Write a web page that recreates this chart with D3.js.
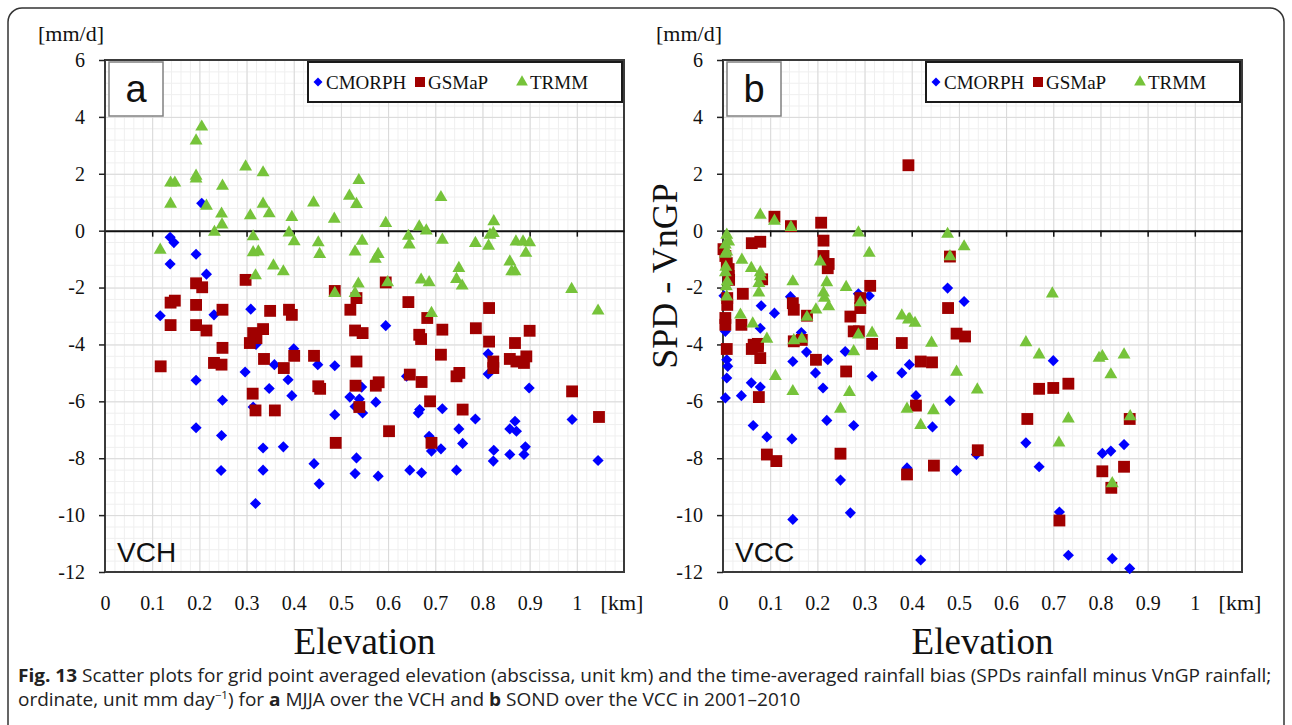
<!DOCTYPE html>
<html>
<head>
<meta charset="utf-8">
<script src="https://cdn.jsdelivr.net/npm/d3@7/dist/d3.min.js"></script>
<style>
  body { margin: 0; background: #fff; }
  svg { display: block; }
</style>
</head>
<body>
<svg id="fig" width="1292" height="725"></svg>
<script>
// ---- data: [elevation km, bias mm/d] ----
const cmorphA = [[0.205,0.96],[0.138,-0.23],[0.146,-0.42],[0.193,-0.83],[0.138,-1.17],[0.215,-1.53],[0.117,-2.99],[0.231,-2.96],[0.309,-2.76],[0.595,-3.34],[0.4,-4.15],[0.32,-4.0],[0.359,-4.71],[0.451,-4.71],[0.487,-4.75],[0.297,-4.97],[0.193,-5.26],[0.388,-5.24],[0.348,-5.55],[0.396,-5.8],[0.249,-5.96],[0.314,-6.2],[0.519,-5.85],[0.539,-5.92],[0.544,-5.5],[0.53,-6.18],[0.546,-6.41],[0.574,-6.03],[0.487,-6.47],[0.193,-6.93],[0.247,-7.2],[0.335,-7.64],[0.378,-7.6],[0.443,-8.19],[0.533,-7.99],[0.246,-8.43],[0.335,-8.42],[0.454,-8.9],[0.53,-8.54],[0.579,-8.63],[0.319,-9.59],[0.812,-4.33],[0.812,-5.04],[0.639,-5.12],[0.899,-5.53],[0.667,-6.29],[0.664,-6.41],[0.715,-6.26],[0.785,-6.62],[0.75,-6.97],[0.758,-7.48],[0.869,-6.7],[0.858,-6.97],[0.872,-7.05],[0.687,-7.23],[0.692,-7.75],[0.712,-7.67],[0.824,-7.72],[0.823,-8.1],[0.858,-7.87],[0.891,-7.6],[0.888,-7.87],[0.646,-8.42],[0.671,-8.51],[0.745,-8.42],[0.99,-6.64],[1.045,-8.08]];
const gsmapA = [[0.298,-1.73],[0.193,-1.85],[0.206,-1.99],[0.139,-2.53],[0.148,-2.46],[0.193,-2.61],[0.249,-2.78],[0.139,-3.32],[0.193,-3.32],[0.215,-3.51],[0.35,-2.82],[0.39,-2.78],[0.396,-2.96],[0.487,-2.12],[0.52,-2.78],[0.595,-1.82],[0.533,-2.37],[0.53,-3.51],[0.546,-3.6],[0.314,-3.6],[0.335,-3.46],[0.321,-3.78],[0.307,-3.95],[0.249,-4.12],[0.118,-4.77],[0.231,-4.65],[0.247,-4.71],[0.337,-4.51],[0.379,-4.83],[0.401,-4.4],[0.443,-4.4],[0.313,-5.73],[0.319,-6.32],[0.36,-6.32],[0.452,-5.47],[0.456,-5.56],[0.489,-7.46],[0.533,-4.6],[0.531,-5.45],[0.539,-6.2],[0.574,-5.45],[0.58,-5.33],[0.602,-7.05],[0.643,-2.51],[0.683,-3.07],[0.666,-3.66],[0.67,-3.81],[0.715,-3.48],[0.786,-3.43],[0.814,-2.72],[0.814,-3.9],[0.869,-3.95],[0.9,-3.52],[0.712,-4.36],[0.823,-4.6],[0.823,-4.83],[0.858,-4.51],[0.872,-4.6],[0.888,-4.65],[0.893,-4.42],[0.646,-5.06],[0.671,-5.32],[0.745,-5.12],[0.751,-5.0],[0.689,-6.0],[0.758,-6.29],[0.692,-7.46],[0.99,-5.65],[1.047,-6.55]];
const trmmA = [[0.205,3.65],[0.193,3.16],[0.193,1.92],[0.193,1.82],[0.139,1.68],[0.148,1.68],[0.139,0.94],[0.215,0.87],[0.249,1.57],[0.247,0.59],[0.248,0.21],[0.232,-0.05],[0.298,2.25],[0.335,2.04],[0.308,0.53],[0.335,0.94],[0.348,0.6],[0.396,0.47],[0.39,-0.07],[0.401,-0.38],[0.314,-0.21],[0.314,-0.77],[0.325,-0.74],[0.357,-1.23],[0.378,-1.44],[0.319,-1.58],[0.117,-0.68],[0.442,0.98],[0.486,0.41],[0.452,-0.42],[0.455,-0.83],[0.518,1.22],[0.538,1.77],[0.533,0.93],[0.545,-0.36],[0.53,-0.74],[0.579,-0.83],[0.573,-1.0],[0.487,-2.2],[0.537,-1.87],[0.53,-2.2],[0.595,0.26],[0.599,-1.82],[0.712,1.17],[0.666,0.14],[0.681,0.0],[0.643,-0.19],[0.645,-0.5],[0.715,-0.33],[0.824,0.32],[0.816,-0.15],[0.823,-0.09],[0.785,-0.44],[0.813,-0.54],[0.871,-0.39],[0.886,-0.39],[0.9,-0.42],[0.892,-0.79],[0.67,-1.73],[0.687,-1.82],[0.75,-1.32],[0.745,-1.71],[0.757,-1.94],[0.858,-1.09],[0.862,-1.44],[0.869,-1.44],[0.989,-2.06],[1.045,-2.82],[0.692,-2.9]];

const cmorphB = [[0.002,-2.29],[0.143,-2.32],[0.081,-2.64],[0.109,-2.9],[0.287,-2.22],[0.31,-2.29],[0.079,-3.43],[0.005,-3.54],[0.166,-3.58],[0.008,-4.54],[0.01,-4.77],[0.008,-5.18],[0.005,-5.88],[0.177,-4.27],[0.148,-4.6],[0.222,-4.54],[0.259,-4.25],[0.196,-5.0],[0.06,-5.35],[0.079,-5.5],[0.039,-5.8],[0.212,-5.53],[0.316,-5.12],[0.379,-5.0],[0.395,-4.71],[0.064,-6.85],[0.093,-7.25],[0.146,-7.32],[0.22,-6.67],[0.277,-6.85],[0.249,-8.77],[0.27,-9.92],[0.148,-10.15],[0.39,-8.34],[0.409,-5.8],[0.481,-5.98],[0.444,-6.9],[0.476,-2.02],[0.511,-2.49],[0.7,-4.57],[0.642,-7.46],[0.537,-7.87],[0.495,-8.43],[0.67,-8.3],[0.713,-9.89],[0.419,-11.58],[0.732,-11.41],[0.804,-7.83],[0.822,-7.75],[0.85,-7.52],[0.825,-11.53],[0.862,-11.88]];
const gsmapB = [[0.393,2.3],[0.109,0.49],[0.144,0.16],[0.208,0.28],[0.061,-0.44],[0.079,-0.39],[0.213,-0.35],[0.001,-0.65],[0.005,-0.89],[0.213,-0.89],[0.224,-1.17],[0.222,-1.32],[0.008,-1.14],[0.012,-1.35],[0.012,-1.59],[0.013,-1.73],[0.083,-1.71],[0.042,-2.22],[0.009,-2.37],[0.009,-2.61],[0.312,-1.94],[0.291,-2.37],[0.291,-2.72],[0.148,-2.55],[0.15,-2.78],[0.178,-2.99],[0.27,-3.02],[0.005,-3.07],[0.005,-3.31],[0.039,-3.31],[0.277,-3.54],[0.288,-3.54],[0.316,-3.98],[0.379,-3.95],[0.065,-4.01],[0.074,-3.98],[0.167,-3.84],[0.15,-3.89],[0.008,-4.16],[0.061,-4.16],[0.074,-4.07],[0.079,-4.48],[0.197,-4.54],[0.261,-4.95],[0.076,-5.85],[0.093,-7.87],[0.113,-8.1],[0.249,-7.84],[0.39,-8.57],[0.481,-0.91],[0.477,-2.72],[0.495,-3.62],[0.513,-3.72],[0.419,-4.6],[0.443,-4.63],[0.409,-6.15],[0.645,-6.62],[0.54,-7.72],[0.447,-8.26],[0.67,-5.56],[0.7,-5.53],[0.732,-5.38],[0.713,-10.19],[0.862,-6.62],[0.804,-8.46],[0.85,-8.3],[0.823,-9.04]];
const trmmB = [[0.079,0.55],[0.109,0.34],[0.144,0.12],[0.287,-0.07],[0.008,-0.15],[0.012,-0.39],[0.005,-0.5],[0.008,-0.74],[0.005,-0.82],[0.04,-1.03],[0.31,-0.79],[0.206,-1.09],[0.006,-1.28],[0.005,-1.47],[0.06,-1.32],[0.079,-1.47],[0.079,-1.61],[0.009,-1.79],[0.007,-1.96],[0.076,-1.85],[0.076,-2.18],[0.148,-1.79],[0.22,-1.82],[0.261,-1.99],[0.213,-2.18],[0.215,-2.37],[0.008,-2.32],[0.224,-2.67],[0.291,-2.53],[0.197,-2.78],[0.178,-3.04],[0.037,-2.96],[0.063,-3.27],[0.093,-3.81],[0.316,-3.6],[0.379,-2.99],[0.393,-3.13],[0.15,-3.86],[0.167,-3.81],[0.287,-3.66],[0.277,-4.25],[0.111,-5.12],[0.148,-5.65],[0.268,-5.68],[0.249,-6.27],[0.39,-6.27],[0.476,-0.12],[0.511,-0.56],[0.481,-0.91],[0.698,-2.22],[0.396,-3.11],[0.407,-3.25],[0.442,-3.95],[0.642,-3.93],[0.67,-4.36],[0.495,-4.97],[0.539,-5.59],[0.446,-6.32],[0.419,-6.84],[0.732,-6.61],[0.712,-7.46],[0.797,-4.48],[0.804,-4.42],[0.85,-4.36],[0.822,-5.06],[0.863,-6.53],[0.825,-8.89]];

const seriesNames = ["CMORPH", "GSMaP", "TRMM"];
const seriesColors = ["#0000ff", "#a00000", "#76c33a"];
const yTicks = [6, 4, 2, 0, -2, -4, -6, -8, -10, -12];
const xTicks = [0, 0.1, 0.2, 0.3, 0.4, 0.5, 0.6, 0.7, 0.8, 0.9, 1];

const serif = "'Liberation Serif', 'Times New Roman', serif";
const sans = "'Liberation Sans', Arial, sans-serif";

const svg = d3.select("#fig");
const plotTop = 60, plotBottom = 572, plotW = 519;

// outer rounded frame of the figure
svg.append("rect")
  .attr("x", 8).attr("y", 8).attr("width", 1276).attr("height", 740)
  .attr("rx", 14)
  .attr("fill", "none").attr("stroke", "#333").attr("stroke-width", 1.5);

const panels = [
  {tag: "a", region: "VCH", left: 105, data: [cmorphA, gsmapA, trmmA], yTitle: false},
  {tag: "b", region: "VCC", left: 723, data: [cmorphB, gsmapB, trmmB], yTitle: true}
];

const symbols = [
  d3.symbol().type(d3.symbolSquare).size(62),   // diamond (square turned 45deg)
  d3.symbol().type(d3.symbolSquare).size(140),
  d3.symbol().type(d3.symbolTriangle).size(72)
];
const rotations = [45, 0, 0];

panels.forEach(p => {
  const x = d3.scaleLinear().domain([0, 1.1]).range([p.left, p.left + plotW]);
  const y = d3.scaleLinear().domain([-12, 6]).range([plotBottom, plotTop]);
  const g = svg.append("g");

  // minor grid
  g.append("g")
    .attr("transform", `translate(0,${plotBottom})`)
    .call(d3.axisBottom(x).tickValues(d3.range(0, 1.1001, 0.02)).tickSize(-(plotBottom - plotTop)).tickFormat(""))
    .call(s => s.select(".domain").remove())
    .selectAll("line").attr("stroke", "#efefef");
  g.append("g")
    .attr("transform", `translate(${p.left},0)`)
    .call(d3.axisLeft(y).tickValues(d3.range(-12, 6.001, 0.4)).tickSize(-plotW).tickFormat(""))
    .call(s => s.select(".domain").remove())
    .selectAll("line").attr("stroke", "#efefef");

  // major grid
  g.append("g")
    .attr("transform", `translate(0,${plotBottom})`)
    .call(d3.axisBottom(x).tickValues(d3.range(0.1, 1.05, 0.1)).tickSize(-(plotBottom - plotTop)).tickFormat(""))
    .call(s => s.select(".domain").remove())
    .selectAll("line").attr("stroke", "#d9d9d9");
  g.append("g")
    .attr("transform", `translate(${p.left},0)`)
    .call(d3.axisLeft(y).tickValues(yTicks).tickSize(-plotW).tickFormat(""))
    .call(s => s.select(".domain").remove())
    .selectAll("line").attr("stroke", "#d9d9d9");

  // frame
  g.append("rect")
    .attr("x", p.left).attr("y", plotTop).attr("width", plotW).attr("height", plotBottom - plotTop)
    .attr("fill", "none").attr("stroke", "#3a3a3a").attr("stroke-width", 2);

  // left axis ticks + labels
  const yAxis = g.append("g")
    .attr("transform", `translate(${p.left},0)`)
    .call(d3.axisLeft(y).tickValues(yTicks).tickSize(6).tickPadding(14).tickFormat(d => String(d)));
  yAxis.select(".domain").remove();
  yAxis.selectAll("line").attr("stroke", "#222").attr("stroke-width", 1.5);
  yAxis.selectAll("text").attr("font-family", serif).attr("font-size", 20).attr("fill", "#111");

  // horizontal axis crossing at zero
  const zeroAxis = g.append("g")
    .attr("transform", `translate(0,${y(0)})`)
    .call(d3.axisBottom(x).tickValues(d3.range(0.1, 1.05, 0.1)).tickSize(6).tickSizeOuter(0).tickFormat(""));
  zeroAxis.select(".domain").attr("stroke", "#111").attr("stroke-width", 2);
  zeroAxis.selectAll("line").attr("stroke", "#111").attr("stroke-width", 1.5);

  // elevation tick labels below the plot
  const xLab = g.append("g")
    .attr("transform", `translate(0,${plotBottom})`)
    .call(d3.axisBottom(x).tickValues(xTicks).tickSize(0).tickPadding(24)
      .tickFormat(d => (d === 0 || d === 1) ? String(d) : d.toFixed(1)));
  xLab.select(".domain").remove();
  xLab.selectAll("text").attr("font-family", serif).attr("font-size", 20).attr("fill", "#111");

  g.append("text")
    .attr("x", x(1.1) - 2).attr("y", plotBottom + 38)
    .attr("text-anchor", "middle")
    .attr("font-family", serif).attr("font-size", 22).attr("fill", "#111")
    .text("[km]");

  g.append("text")
    .attr("x", p.left - 67).attr("y", 41)
    .attr("font-family", serif).attr("font-size", 22).attr("fill", "#111")
    .text("[mm/d]");

  g.append("text")
    .attr("x", x(0.55)).attr("y", 654)
    .attr("text-anchor", "middle")
    .attr("font-family", serif).attr("font-size", 37).attr("fill", "#111")
    .text("Elevation");

  if (p.yTitle) {
    g.append("text")
      .attr("transform", `translate(677,276) rotate(-90)`)
      .attr("text-anchor", "middle")
      .attr("font-family", serif).attr("font-size", 36).attr("fill", "#111")
      .text("SPD - VnGP");
  }

  // markers
  p.data.forEach((pts, i) => {
    g.append("g").selectAll("path")
      .data(pts)
      .join("path")
      .attr("d", symbols[i])
      .attr("transform", d => `translate(${x(d[0])},${y(d[1])}) rotate(${rotations[i]})`)
      .attr("fill", seriesColors[i]);
  });

  // panel letter box
  g.append("rect")
    .attr("x", p.left + 4).attr("y", plotTop + 2).attr("width", 54).attr("height", 54)
    .attr("fill", "#fff").attr("stroke", "#808080").attr("stroke-width", 1.5);
  g.append("text")
    .attr("x", p.left + 31).attr("y", plotTop + 42)
    .attr("text-anchor", "middle")
    .attr("font-family", sans).attr("font-size", 38).attr("fill", "#111")
    .text(p.tag);

  // region label
  g.append("text")
    .attr("x", p.left + 12).attr("y", plotBottom - 10)
    .attr("font-family", sans).attr("font-size", 28).attr("fill", "#111")
    .text(p.region);

  // legend
  const lx = x(1.1) - 316, ly = plotTop + 2;
  const leg = g.append("g");
  leg.append("rect")
    .attr("x", lx).attr("y", ly).attr("width", 314).attr("height", 40)
    .attr("fill", "#fff").attr("stroke", "#1a1a1a").attr("stroke-width", 2);
  const offs = [10, 112, 214];
  seriesNames.forEach((name, i) => {
    leg.append("path")
      .attr("d", d3.symbol().type(i === 2 ? d3.symbolTriangle : d3.symbolSquare).size(i === 0 ? 40 : (i === 1 ? 100 : 60)))
      .attr("transform", `translate(${lx + offs[i]},${ly + 20}) rotate(${rotations[i]})`)
      .attr("fill", seriesColors[i]);
    leg.append("text")
      .attr("x", lx + offs[i] + 8).attr("y", ly + 27)
      .attr("font-family", serif).attr("font-size", 19).attr("fill", "#111")
      .text(name);
  });
});

// caption, squeezed to the width of the figure box
const cap = svg.append("g").attr("font-family", "'Open Sans', 'Noto Sans', sans-serif").attr("font-size", 18).attr("fill", "#222");
const line1 = cap.append("text").attr("x", 0).attr("y", 0);
line1.append("tspan").attr("font-weight", "bold").text("Fig. 13");
line1.append("tspan").text(" Scatter plots for grid point averaged elevation (abscissa, unit km) and the time-averaged rainfall bias (SPDs rainfall minus VnGP rainfall;");
const line2 = cap.append("text").attr("x", 0).attr("y", 24);
line2.append("tspan").text("ordinate, unit mm day");
line2.append("tspan").attr("font-size", 11).attr("dy", -7).text("\u22121");
line2.append("tspan").attr("dy", 7).text(") for ");
line2.append("tspan").attr("font-weight", "bold").text("a");
line2.append("tspan").text(" MJJA over the VCH and ");
line2.append("tspan").attr("font-weight", "bold").text("b");
line2.append("tspan").text(" SOND over the VCC in 2001\u20132010");
const sx = 1254 / line1.node().getComputedTextLength();
cap.attr("transform", `translate(18,682) scale(${sx},1)`);
</script>
</body>
</html>
